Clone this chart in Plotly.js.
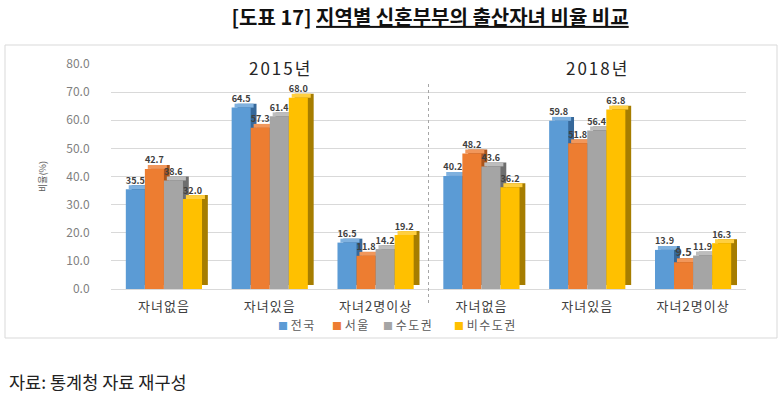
<!DOCTYPE html>
<html>
<head>
<meta charset="utf-8">
<script src="https://cdn.plot.ly/plotly-3.0.1.min.js"></script>
<style>html,body{margin:0;padding:0;background:#fff;}#chart{width:782px;height:398px;}</style>
</head>
<body>
<div id="chart"></div>
<script>
const tickLabels = ['자녀없음', '자녀있음', '자녀2명이상', '자녀없음', '자녀있음', '자녀2명이상'];
const seriesNames = ['전국', '서울', '수도권', '비수도권'];
const national  = [35.5, 64.5, 16.5, 40.2, 59.8, 13.9];
const seoul     = [42.7, 57.3, 11.8, 48.2, 51.8, 9.5];
const capital   = [38.6, 61.4, 14.2, 43.6, 56.4, 11.9];
const nonCapital= [32.0, 68.0, 19.2, 36.2, 63.8, 16.3];
const yearLabels = ['2015년', '2018년'];

const seriesValues = [national, seoul, capital, nonCapital];
const colors = ['#5B9BD5', '#ED7D31', '#A5A5A5', '#FFC000'];
const sideColors = ['#36689A', '#A8541D', '#6E6E6E', '#A67D00'];
const topColors = ['#7FB1DF', '#F1975B', '#BDBDBD', '#FFCF40'];
const legendPx = [276, 330, 381, 452];
const xs = tickLabels.map((_, i) => i);

const barW = 0.18, d = 0.055, dy = 1.4;
const font = "'Noto Sans CJK KR', 'Noto Sans', sans-serif";
const traces = [];
seriesValues.forEach((vals, s) => {
  const off = -0.36 + s * barW;
  traces.push({type: 'bar', x: xs, y: vals, base: dy, offset: off + d, width: barW,
    marker: {color: sideColors[s]}, showlegend: false, hoverinfo: 'skip', textposition: 'none'});
  traces.push({type: 'bar', x: xs, y: vals.map(() => dy), base: vals, offset: off + d / 2, width: barW,
    marker: {color: topColors[s]}, showlegend: false, hoverinfo: 'skip', textposition: 'none'});
  traces.push({type: 'bar', x: xs, y: vals, offset: off, width: barW, name: seriesNames[s],
    marker: {color: colors[s]}, showlegend: false,
    text: vals.map(v => v.toFixed(1)), textposition: 'outside', cliponaxis: false,
    textfont: {family: font, size: 11, color: '#404040', weight: 'bold'}});
});

const legendAnns = seriesNames.map((n, s) => ({
  text: '<span style="color:' + colors[s] + ';font-size:10px">■</span> <span style="letter-spacing:1.5px">' + n + '</span>',
  xref: 'paper', yref: 'paper', x: (legendPx[s] - 111) / 635, xanchor: 'left',
  y: (289 - 324) / 225, yanchor: 'middle', showarrow: false,
  font: {family: font, size: 12, color: '#595959'}
}));

const layout = {
  width: 782, height: 398,
  margin: {l: 111, r: 36, t: 64, b: 109},
  paper_bgcolor: '#fff', plot_bgcolor: '#fff',
  barmode: 'overlay',
  showlegend: false,
  font: {family: font, color: '#595959'},
  title: {text: '[도표 17] <u>지역별 신혼부부의 출산자녀 비율 비교</u>', x: 0.55, xanchor: 'center', y: 0.955, yanchor: 'middle',
    font: {family: font, size: 20, color: '#111', weight: 'bold'}},
  xaxis: {range: [-0.5, 5.5], tickmode: 'array', tickvals: xs,
    ticktext: tickLabels.map(t => '<span style="letter-spacing:1px">' + t + '</span>'),
    showgrid: false, zeroline: false, showline: false, ticks: 'outside', ticklen: 5, tickcolor: 'rgba(0,0,0,0)',
    tickfont: {family: font, size: 13, color: '#404040'}, fixedrange: true},
  yaxis: {range: [0, 80], dtick: 10, tickformat: '.1f', showgrid: true, gridcolor: '#D9D9D9', gridwidth: 1,
    zeroline: true, zerolinecolor: '#D9D9D9', showline: false, ticks: 'outside', ticklen: 18, tickcolor: 'rgba(0,0,0,0)',
    tickfont: {family: font, size: 12, color: '#7F7F7F'},
    title: {text: '비율(%)', font: {family: font, size: 9, color: '#595959'}, standoff: 18}},
  annotations: [
    {text: '<span style="letter-spacing:2px">' + yearLabels[0] + '</span>', x: 1.1, y: 78.9, xref: 'x', yref: 'y', showarrow: false, bgcolor: '#fff',
      font: {family: font, size: 17, color: '#262626'}},
    {text: '<span style="letter-spacing:2px">' + yearLabels[1] + '</span>', x: 4.1, y: 78.9, xref: 'x', yref: 'y', showarrow: false, bgcolor: '#fff',
      font: {family: font, size: 17, color: '#262626'}},
    ...legendAnns,
    {text: '자료: 통계청 자료 재구성', xref: 'paper', yref: 'paper', x: (7 - 111) / 635, xanchor: 'left',
      y: (289 - 381) / 225, yanchor: 'middle', showarrow: false, font: {family: font, size: 17.5, color: '#222'}}
  ],
  shapes: [
    {type: 'rect', xref: 'paper', yref: 'paper', x0: (5 - 111) / 635, x1: (777 - 111) / 635,
      y0: (289 - 338) / 225, y1: (289 - 45) / 225, line: {color: '#D9D9D9', width: 1}, layer: 'below'},
    {type: 'line', xref: 'paper', yref: 'paper', x0: 0.5, x1: 0.5, y0: (289 - 303) / 225, y1: (289 - 82) / 225,
      line: {color: '#A6A6A6', width: 1, dash: 'dot'}}
  ]
};
Plotly.newPlot('chart', traces, layout, {displayModeBar: false, staticPlot: true});
</script>
</body>
</html>
